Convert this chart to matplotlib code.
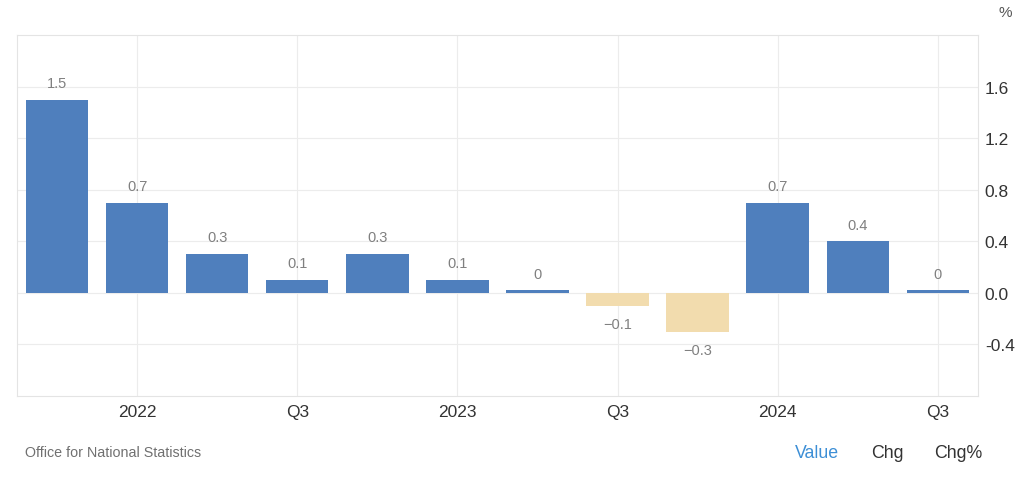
import matplotlib.pyplot as plt
import numpy as np

# quarterly GDP growth, Q4 2021 .. Q3 2024
quarters = ["Q4 2021", "Q1 2022", "Q2 2022", "Q3 2022", "Q4 2022", "Q1 2023",
            "Q2 2023", "Q3 2023", "Q4 2023", "Q1 2024", "Q2 2024", "Q3 2024"]
growth = [1.5, 0.7, 0.3, 0.1, 0.3, 0.1, 0.02, -0.1, -0.3, 0.7, 0.4, 0.02]
value_labels = ["1.5", "0.7", "0.3", "0.1", "0.3", "0.1", "0", "\u22120.1", "\u22120.3", "0.7", "0.4", "0"]
tick_idx = [1, 3, 5, 7, 9, 11]
tick_labels = ["2022", "Q3", "2023", "Q3", "2024", "Q3"]
y_ticks = [-0.4, 0.0, 0.4, 0.8, 1.2, 1.6]

plt.rcParams["font.family"] = ["Liberation Sans", "DejaVu Sans"]

BLUE = "#4f7fbd"
BEIGE = "#f2dcae"

fig = plt.figure(figsize=(10.24, 4.81), dpi=100)
ax = fig.add_axes([0.0166, 0.1746, 0.9384, 0.7504])

x = np.arange(len(growth))
colors = [BLUE if v >= 0 else BEIGE for v in growth]
ax.bar(x, growth, width=0.78, color=colors, zorder=3)

for xi, v, lab in zip(x, growth, value_labels):
    if v >= 0:
        ax.annotate(lab, (xi, v), xytext=(0, 7), textcoords="offset points",
                    ha="center", va="bottom", fontsize=10.5, color="#808080")
    else:
        ax.annotate(lab, (xi, v), xytext=(0, -8), textcoords="offset points",
                    ha="center", va="top", fontsize=10.5, color="#808080")

ax.set_xlim(-0.5, 11.5)
ax.set_ylim(-0.8, 2.0)
ax.set_xticks(tick_idx)
ax.set_xticklabels(tick_labels)
ax.set_yticks(y_ticks)
ax.set_yticklabels([f"{t:.1f}" for t in y_ticks])
ax.yaxis.tick_right()
ax.tick_params(axis="both", length=0, labelsize=12.5, colors="#333333")
ax.tick_params(axis="x", pad=6)
ax.tick_params(axis="y", pad=5)

ax.grid(True, color="#ececec", linewidth=0.8, zorder=0)
for side in ["left", "right", "top", "bottom"]:
    ax.spines[side].set_color("#e4e4e4")
    ax.spines[side].set_linewidth(0.8)

fig.text(0.982, 0.972, "%", ha="center", va="center", fontsize=11, color="#555555")
fig.text(0.024, 0.058, "Office for National Statistics", ha="left", va="center",
         fontsize=10.3, color="#707070")
fig.text(0.776, 0.058, "Value", ha="left", va="center", fontsize=12.8, color="#3d8fd6")
fig.text(0.851, 0.058, "Chg", ha="left", va="center", fontsize=12.8, color="#333333")
fig.text(0.912, 0.058, "Chg%", ha="left", va="center", fontsize=12.8, color="#333333")

fig.savefig("out.png", dpi=100)
